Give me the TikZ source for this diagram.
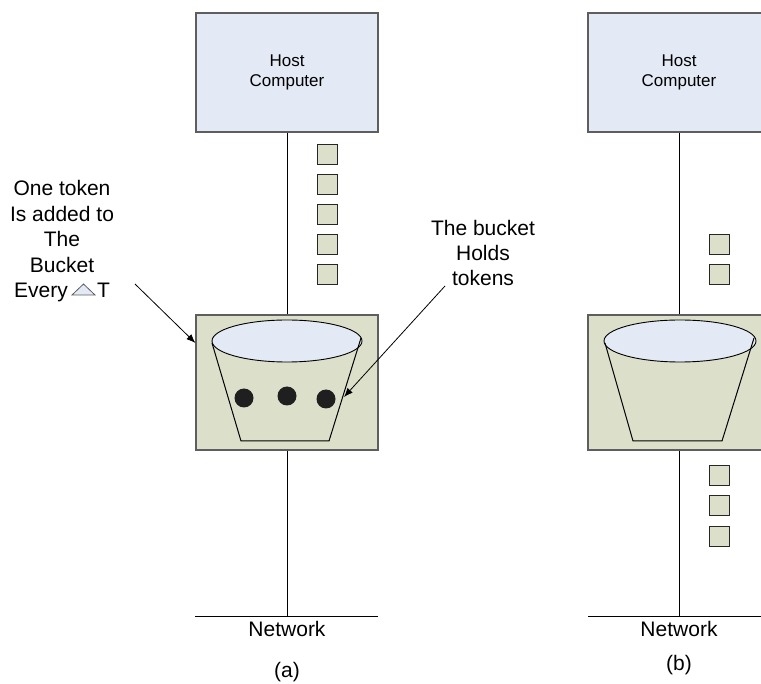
\documentclass[tikz,border=0pt]{standalone}
\usepackage{fontspec}
\setmainfont{Liberation Sans}
\usetikzlibrary{arrows.meta}
\definecolor{hostfill}{HTML}{E4EAF5}
\definecolor{bucketfill}{HTML}{DCDFC9}
\definecolor{edgegray}{HTML}{5E5E5E}
\begin{document}
\begin{tikzpicture}[x=1pt,y=-1pt,
  hostbox/.style={draw=edgegray, fill=hostfill, line width=1.2pt, minimum width=182pt, minimum height=119pt, inner sep=0pt},
  bucketbox/.style={draw=edgegray, fill=bucketfill, line width=1.2pt, minimum width=182pt, minimum height=135pt, inner sep=0pt},
  token/.style={draw=black!85, fill=bucketfill, line width=0.9pt, minimum size=20pt, inner sep=0pt},
  ball/.style={circle, fill=black!88, minimum size=19pt, inner sep=0pt},
  wire/.style={draw=black, line width=1pt},
  rim/.style={draw=black, fill=hostfill, line width=0.9pt},
  pail/.style={draw=black, line width=1pt},
  big/.style={font=\fontsize{21}{25}\selectfont, inner sep=0pt},
  small/.style={font=\fontsize{17}{20}\selectfont, align=center, inner sep=0pt},
  pointer/.style={draw=black, line width=0.8pt, -{Latex[length=9pt,width=7pt]}}
]
\useasboundingbox (0,0) rectangle (761,684);
\clip (0,0) rectangle (761,684);

% ---------- panel (a) ----------
\node[hostbox] (hostA) at (287,72.5) {};
\node[small] (hostAtxt) at (287,72.5) {Host\\Computer};
\node[bucketbox] (bktA) at (287,382.5) {};
\draw[rim] (287,341) ellipse [x radius=75, y radius=21];
\coordinate (pA1) at (212,343);
\coordinate (pA2) at (241,441);
\coordinate (pA3) at (329,441);
\coordinate (pA4) at (361,338);
\draw[pail] (pA1) -- (pA2) -- (pA3) -- (pA4);
\node[ball] (ballA1) at (244,398) {};
\node[ball] (ballA2) at (287,396) {};
\node[ball] (ballA3) at (326,399) {};
\foreach \i/\yy in {1/154,2/184,3/214,4/244,5/274}
  \node[token] (tokA\i) at (327,\yy) {};
\coordinate (netA) at (287,616);
\coordinate (netAL) at (195,616);
\coordinate (netAR) at (378,616);
\draw[wire] (hostA.south) -- (bktA.north);
\draw[wire] (bktA.south) -- (netA);
\draw[wire] (netAL) -- (netAR);
\node[big, anchor=base] (netAtxt) at (287,636) {Network};
\node[big, anchor=base] (capA) at (287,677) {(a)};

% annotations
\node[big, anchor=base] (l1) at (62,196) {One token};
\node[big, anchor=base] (l2) at (62,221.5) {Is added to};
\node[big, anchor=base] (l3) at (62,247) {The};
\node[big, anchor=base] (l4) at (62,272.5) {Bucket};
\node[big, anchor=base east] (l5) at (68,298) {Every};
\node[big, anchor=base west] (l6) at (97,298) {T};
\draw[draw=edgegray, fill=hostfill, line width=0.8pt] (72,295) -- (83.5,284) -- (95,295) -- cycle;
\coordinate (arrL) at (135,284);
\draw[pointer] (arrL) -- (bktA.west |- 0,343);

\node[big, anchor=base] (r1) at (483,236) {The bucket};
\node[big, anchor=base] (r2) at (483,261) {Holds};
\node[big, anchor=base] (r3) at (483,286) {tokens};
\coordinate (arrR) at (445,286);
\coordinate (arrRend) at (344,397);
\draw[pointer] (arrR) -- (arrRend);

% ---------- panel (b) ----------
\node[hostbox] (hostB) at (679,72.5) {};
\node[small] (hostBtxt) at (679,72.5) {Host\\Computer};
\node[bucketbox] (bktB) at (679,382.5) {};
\draw[rim] (680,341) ellipse [x radius=76, y radius=21];
\coordinate (pB1) at (605,343);
\coordinate (pB2) at (633,441);
\coordinate (pB3) at (722,441);
\coordinate (pB4) at (754,338);
\draw[pail] (pB1) -- (pB2) -- (pB3) -- (pB4);
\foreach \i/\yy in {1/244.5,2/274.5}
  \node[token] (tokB\i) at (719.5,\yy) {};
\foreach \i/\yy in {3/475.5,4/505.5,5/536}
  \node[token] (tokB\i) at (719.5,\yy) {};
\coordinate (netB) at (679,616);
\coordinate (netBL) at (588,616);
\coordinate (netBR) at (771,616);
\draw[wire] (hostB.south) -- (bktB.north);
\draw[wire] (bktB.south) -- (netB);
\draw[wire] (netBL) -- (netBR);
\node[big, anchor=base] (netBtxt) at (679,636) {Network};
\node[big, anchor=base] (capB) at (679,670) {(b)};
\end{tikzpicture}
\end{document}
